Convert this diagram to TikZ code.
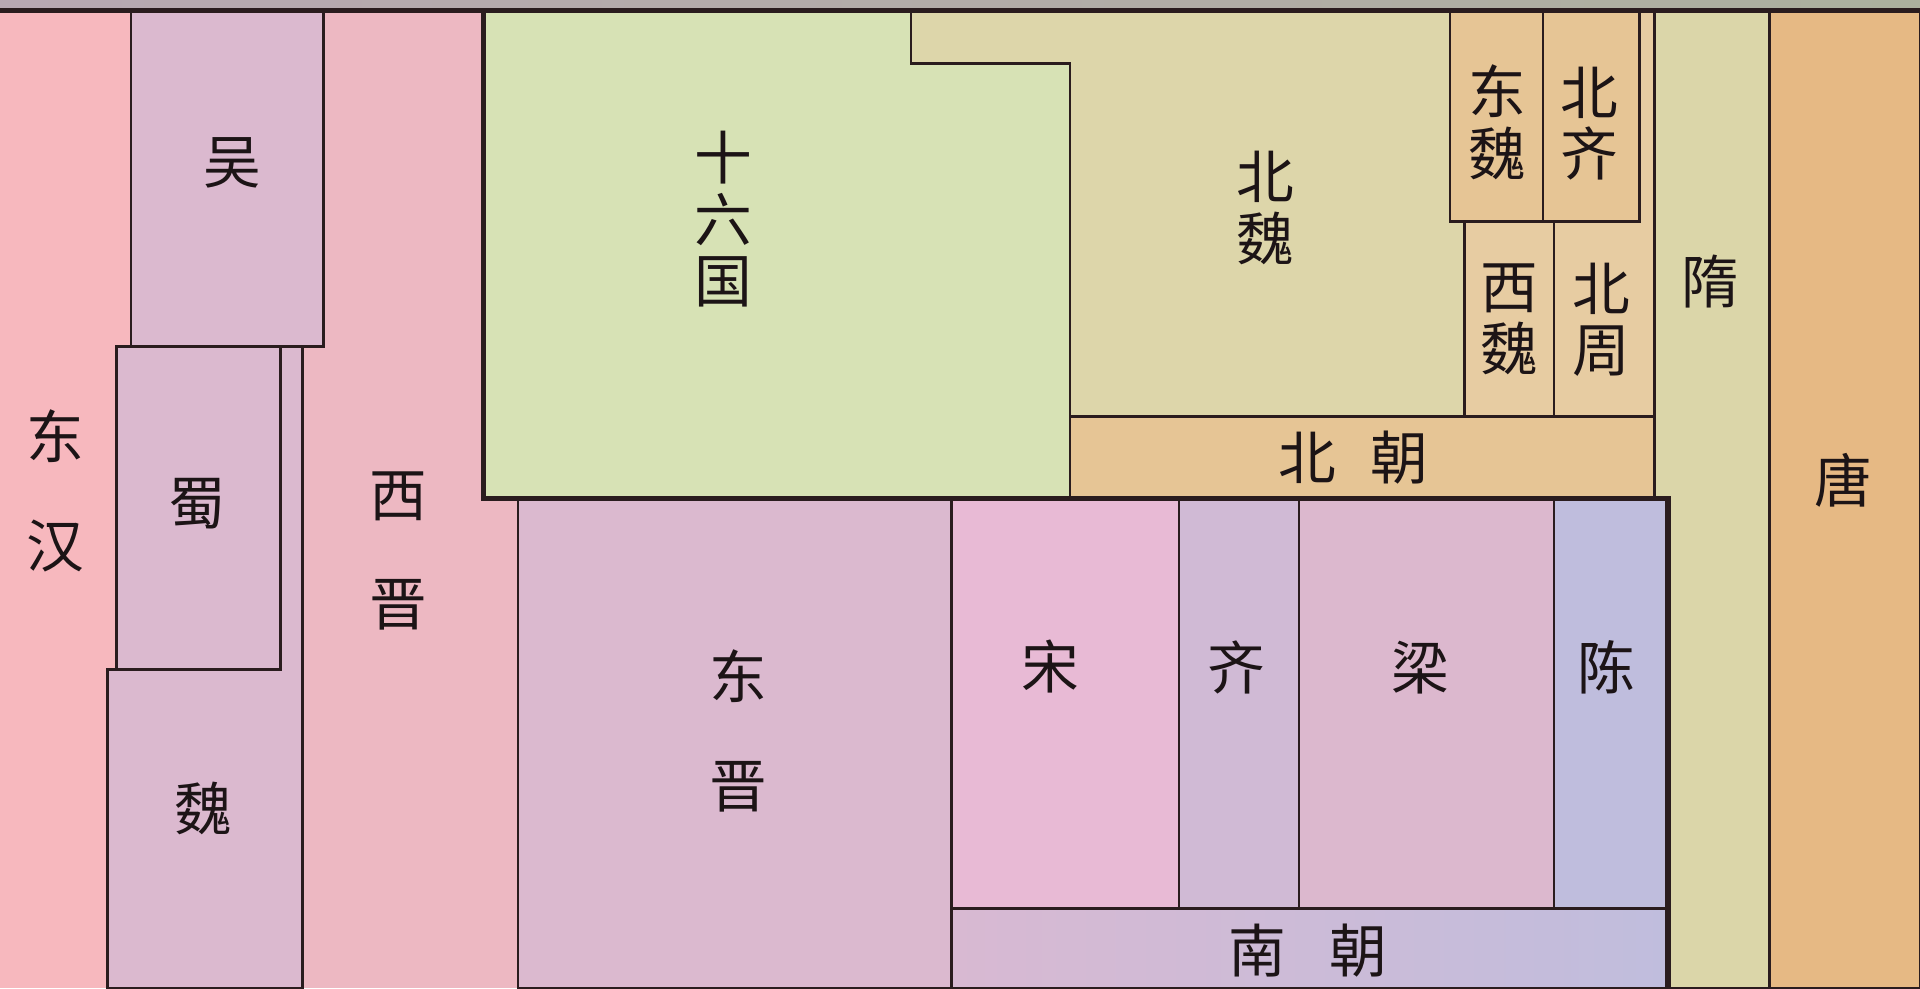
\documentclass[tikz,border=0pt]{standalone}
\usepackage{fontspec}
\newfontfamily\cjkfont{Noto Sans CJK SC}

\definecolor{edge}{HTML}{2A1C1E}
\definecolor{ink}{HTML}{1C1416}
\definecolor{stripL}{RGB}{184,168,178}
\definecolor{stripR}{RGB}{172,176,158}
\definecolor{donghan}{RGB}{247,184,190}
\definecolor{sanguo}{RGB}{219,185,207}
\definecolor{xijin}{RGB}{237,184,194}
\definecolor{shiliu}{RGB}{215,226,181}
\definecolor{beiwei}{RGB}{221,214,170}
\definecolor{dongwei}{RGB}{230,197,149}
\definecolor{xiwei}{RGB}{231,204,162}
\definecolor{sui}{RGB}{219,214,169}
\definecolor{tang}{RGB}{230,185,132}
\definecolor{song}{RGB}{232,186,213}
\definecolor{qi}{RGB}{208,186,213}
\definecolor{liang}{RGB}{220,184,206}
\definecolor{chen}{RGB}{191,189,221}
\definecolor{nanL}{RGB}{216,185,210}
\definecolor{nanR}{RGB}{192,189,221}

\tikzset{
    era/.style={fill=#1, draw=edge, line width=0.6pt},
    bold edge/.style={draw=edge, line width=1.3pt},
    lbl/.style={font=\cjkfont\fontsize{13.4pt}{14.3pt}\selectfont, text=ink, inner sep=0pt, align=center},
    wide/.style={font=\cjkfont\fontsize{13.4pt}{25.3pt}\selectfont}
}

\begin{document}
\begin{tikzpicture}[x=0.01cm, y=-0.01cm]
    \useasboundingbox (0,0) rectangle (1568,807);

    % Faded strip along the top edge
    \shade[left color=stripL, right color=stripR] (0,0) rectangle (1568,9);

    % Eastern Han and Western Jin (background columns)
    \fill[donghan] (0,8) rectangle (250,807);
    \fill[xijin] (247,8) rectangle (423,807);

    % Three Kingdoms
    \filldraw[era=sanguo] (107,8) rectangle (264,283);
    \filldraw[era=sanguo] (88,807) -- (88,547) -- (229,547) -- (229,283) -- (247,283) -- (247,807) -- cycle;
    \filldraw[era=sanguo] (95,283) rectangle (229,547);

    % Sixteen Kingdoms (with notch at top right)
    \filldraw[era=shiliu] (395,8) -- (744,8) -- (744,52) -- (874,52) -- (874,407) -- (395,407) -- cycle;

    % Northern Wei
    \filldraw[era=beiwei] (744,8) -- (1184,8) -- (1184,181) -- (1196,181) -- (1196,340)
        -- (874,340) -- (874,52) -- (744,52) -- cycle;

    % Western Wei, Northern Zhou
    \filldraw[era=xiwei] (1269,8) rectangle (1351,340);
    \filldraw[era=xiwei] (1196,181) rectangle (1269,340);

    % Eastern Wei, Northern Qi
    \filldraw[era=dongwei] (1184,8) rectangle (1260,181);
    \filldraw[era=dongwei] (1260,8) rectangle (1339,181);

    % Northern Dynasties band
    \filldraw[era=dongwei] (874,340) rectangle (1351,407);

    % Sui and Tang
    \filldraw[era=sui] (1351,8) rectangle (1445,807);
    \filldraw[era=tang] (1445,8) rectangle (1568,807);

    % Eastern Jin
    \filldraw[era=sanguo] (423,407) rectangle (777,807);

    % Southern Dynasties: Song, Qi, Liang, Chen
    \foreach \xa/\xb/\col in {777/963/song, 963/1061/qi, 1061/1269/liang, 1269/1362/chen}
        \filldraw[era=\col] (\xa,407) rectangle (\xb,742);

    % Southern Dynasties band
    \shadedraw[left color=nanL, right color=nanR, draw=edge, line width=0.6pt] (777,742) rectangle (1362,807);

    % Heavy frame lines
    \draw[bold edge] (0,8.5) -- (1568,8.5);
    \draw[bold edge] (395,8) -- (395,407) -- (1362,407) -- (1362,807);

    % Labels
    \node[lbl, wide] (donghan) at (45,401) {东\\汉};
    \node[lbl] (wu) at (190,133) {吴};
    \node[lbl] (shu) at (161,411) {蜀};
    \node[lbl] (wei) at (166,660) {魏};
    \node[lbl, wide] (xijin) at (325,450) {西\\晋};
    \node[lbl] (shiliuguo) at (591,179) {十\\六\\国};
    \node[lbl, wide] (dongjin) at (603,597) {东\\晋};
    \node[lbl] (beiwei) at (1033,170) {北\\魏};
    \node[lbl] (dongwei) at (1223,100) {东\\魏};
    \node[lbl] (beiqi) at (1298,101) {北\\齐};
    \node[lbl] (xiwei) at (1233,261) {西\\魏};
    \node[lbl] (beizhou) at (1308,261) {北\\周};
    \node[lbl] (beichao) at (1105,374) {北\hspace{2.8mm}朝};
    \node[lbl] (sui) at (1397,230) {隋};
    \node[lbl] (tang) at (1505,392) {唐};
    \node[lbl] (song) at (858,544) {宋};
    \node[lbl] (qi) at (1010,545) {齐};
    \node[lbl] (liang) at (1160,545) {梁};
    \node[lbl] (chen) at (1312,545) {陈};
    \node[lbl] (nanchao) at (1068,776) {南\hspace{3.6mm}朝};

\end{tikzpicture}
\end{document}
